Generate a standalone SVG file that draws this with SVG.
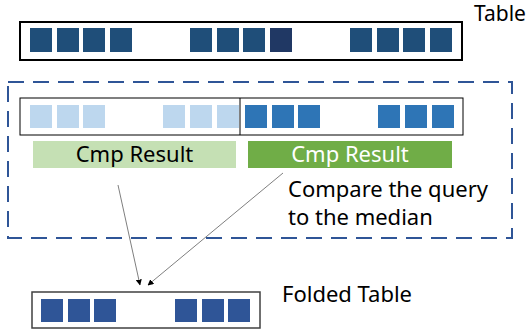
<svg xmlns="http://www.w3.org/2000/svg" width="530" height="332" viewBox="0 0 530 332">
<defs>
<style>
.t{font-family:"Noto Sans","Liberation Sans",sans-serif;font-size:22px;fill:#000}
.sq{fill:#1F4E79}
.lt{fill:#BDD7EE}
.dk{fill:#2E75B6}
.fd{fill:#2F5597}
.con{stroke:#7F7F7F;stroke-width:1;fill:none;marker-end:url(#ah)}
</style>
<marker id="ah" viewBox="0 0 10 10" refX="9" refY="5" markerWidth="6" markerHeight="6" orient="auto" markerUnits="userSpaceOnUse">
<path d="M0,0 L10,5 L0,10 z" fill="#000"/>
</marker>
</defs>
<rect width="530" height="332" fill="#fff"/>
<g id="table">
<rect x="20" y="22" width="442" height="38" fill="#fff" stroke="#000" stroke-width="2"/>
<rect class="sq" x="30" y="28" width="22" height="24"/>
<rect class="sq" x="57" y="28" width="22" height="24"/>
<rect class="sq" x="83" y="28" width="22" height="24"/>
<rect class="sq" x="110" y="28" width="22" height="24"/>
<rect class="sq" x="190" y="28" width="22" height="24"/>
<rect class="sq" x="217" y="28" width="22" height="24"/>
<rect class="sq" x="243" y="28" width="22" height="24"/>
<rect x="270" y="28" width="22" height="24" fill="#203864"/>
<rect class="sq" x="350" y="28" width="22" height="24"/>
<rect class="sq" x="377" y="28" width="22" height="24"/>
<rect class="sq" x="403" y="28" width="22" height="24"/>
<rect class="sq" x="430" y="28" width="22" height="24"/>
<text class="t" x="474" y="21" style="font-size:21px">Table</text>
</g>
<g id="compare">
<rect x="8" y="82" width="504" height="156" fill="none" stroke="#2F5597" stroke-width="2" stroke-dasharray="16 9"/>
<rect x="20" y="98" width="443" height="37" fill="#fff" stroke="#000" stroke-width="1"/>
<line x1="240" y1="98" x2="240" y2="135" stroke="#000" stroke-width="1"/>
<rect class="lt" x="30" y="105" width="22" height="23"/>
<rect class="lt" x="57" y="105" width="22" height="23"/>
<rect class="lt" x="83" y="105" width="22" height="23"/>
<rect class="lt" x="163" y="105" width="22" height="23"/>
<rect class="lt" x="190" y="105" width="22" height="23"/>
<rect class="lt" x="217" y="105" width="22" height="23"/>
<rect class="dk" x="245" y="105" width="22" height="23"/>
<rect class="dk" x="272" y="105" width="22" height="23"/>
<rect class="dk" x="298" y="105" width="22" height="23"/>
<rect class="dk" x="378" y="105" width="22" height="23"/>
<rect class="dk" x="405" y="105" width="22" height="23"/>
<rect class="dk" x="432" y="105" width="22" height="23"/>
</g>
<g id="cmp1">
<rect x="33" y="141" width="203" height="27" fill="#C5E0B4"/>
<text class="t" x="134.5" y="162" text-anchor="middle">Cmp Result</text>
</g>
<g id="cmp2">
<rect x="248" y="141" width="204" height="27" fill="#70AD47"/>
<text class="t" x="350" y="162" text-anchor="middle" style="fill:#fff">Cmp Result</text>
</g>
<g id="note">
<text class="t" x="288" y="197">Compare the query</text>
<text class="t" x="288" y="225">to the median</text>
</g>
<g id="folded">
<rect x="32" y="292" width="228" height="36" fill="#fff" stroke="#404040" stroke-width="1.5"/>
<rect class="fd" x="41" y="299" width="22" height="23"/>
<rect class="fd" x="68" y="299" width="22" height="23"/>
<rect class="fd" x="94" y="299" width="22" height="23"/>
<rect class="fd" x="175" y="299" width="22" height="23"/>
<rect class="fd" x="202" y="299" width="22" height="23"/>
<rect class="fd" x="228" y="299" width="22" height="23"/>
<text class="t" x="282" y="302">Folded Table</text>
</g>
<g id="connectors">
<line class="con" x1="118" y1="185" x2="140" y2="285"/>
<line class="con" x1="283" y1="173" x2="148" y2="285"/>
</g>
</svg>
